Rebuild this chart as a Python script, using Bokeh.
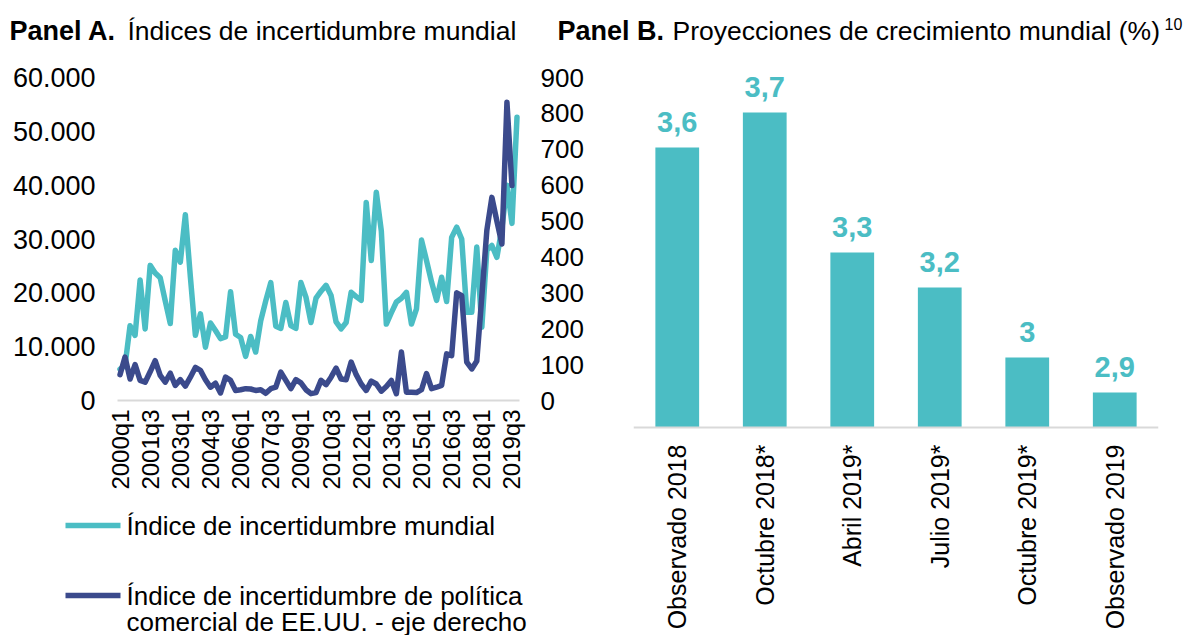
import math
from bokeh.plotting import figure
from bokeh.models import (Range1d, LinearAxis, CategoricalAxis, FixedTicker, Label,
                          BoxAnnotation, FactorRange)
from bokeh.layouts import column, row
from bokeh.embed import file_html
from bokeh.resources import INLINE
from bokeh.core.properties import value

FONT = "Liberation Sans"
CYAN = "#4BBDC4"
NAVY = "#3B4A8C"
GRAY = "#D9D9D9"
TXT = "#000000"

# ---------------- data ----------------
years = list(range(2000, 2020))
quarters = [f"{y}q{q}" for y in years for q in (1, 2, 3, 4)]

# Índice de incertidumbre mundial (left axis)
wui = [5800, 6500, 13900, 12100, 22400, 13300, 25100, 23700, 22800, 18500,
       14300, 27900, 25700, 34500, 23000, 12100, 16100, 9900, 14400, 13000,
       11500, 11800, 20200, 12300, 11700, 8200, 11900, 9000, 14800, 18500,
       21900, 13800, 13400, 18200, 13900, 13400, 21900, 19200, 14500, 19000,
       20300, 21400, 19500, 14600, 13300, 14500, 20100, 19300, 18600, 36800,
       26000, 38700, 31500, 14200, 16300, 18300, 19000, 20100, 14200, 17000,
       29800, 26000, 22000, 18600, 22900, 18400, 30300, 32200, 30000, 16400,
       16400, 28500, 13600, 27900, 28800, 26600, 32000, 40000, 32900, 52600]

# Índice de incertidumbre de política comercial de EE.UU. (right axis)
tpu = [72, 121, 60, 100, 56, 51, 80, 111, 70, 51,
       76, 42, 58, 40, 65, 92, 84, 58, 37, 48,
       21, 65, 56, 28, 30, 33, 32, 28, 30, 20,
       33, 37, 79, 56, 33, 58, 49, 30, 19, 22,
       56, 44, 65, 90, 60, 58, 107, 72, 46, 28,
       54, 46, 26, 39, 56, 19, 135, 23, 23, 22,
       30, 75, 33, 37, 42, 130, 125, 300, 292, 107,
       88, 110, 290, 474, 566, 500, 436, 831, 599]

left_ticks = [0, 10000, 20000, 30000, 40000, 50000, 60000]
left_tick_labels = ["0", "10.000", "20.000", "30.000", "40.000", "50.000", "60.000"]
right_ticks = [0, 100, 200, 300, 400, 500, 600, 700, 800, 900]
x_label_step = 6

bar_cats = ["Observado 2018", "Octubre 2018*", "Abril 2019*", "Julio 2019*",
            "Octubre 2019*", "Observado 2019"]
bar_vals = [3.6, 3.7, 3.3, 3.2, 3.0, 2.9]
bar_labels = [f"{v:g}".replace(".", ",") for v in bar_vals]
bar_axis_min = 2.8
bar_axis_max = 3.8

legend_1 = "Índice de incertidumbre mundial"
legend_2a = "Índice de incertidumbre de política"
legend_2b = "comercial de EE.UU. - eje derecho"

# ---------------- page geometry (pixels) ----------------
PAGE_W, PAGE_H = 1190, 635
TITLE_H = 58
FIG_H = PAGE_H - TITLE_H
A_W = 600
B_W = PAGE_W - A_W
A_L, A_R = 117, 519          # quarter band of panel A
PLOT_TOP, A_ZERO = 77, 400   # y of top tick / zero line in panel A
B_L, B_R, B_BASE = 633, 1158, 427


def add_label(p, x, y, text, size="27px", bold=False, color=TXT,
              baseline="middle", align="left"):
    p.add_layout(Label(x=x, y=y, text=text, text_font=FONT, text_font_size=size,
                       text_font_style="bold" if bold else "normal",
                       text_color=color, text_baseline=baseline, text_align=align))


# ---------------- titles ----------------
pt = figure(width=PAGE_W, height=TITLE_H, x_range=Range1d(0, PAGE_W),
            y_range=Range1d(0, TITLE_H), x_axis_type=None, y_axis_type=None,
            toolbar_location=None, output_backend="svg", min_border=0,
            outline_line_color=None)
pt.grid.visible = False
ty = TITLE_H - 30
add_label(pt, 9, ty, "Panel A.", size="27px", bold=True)
add_label(pt, 127, ty, "Índices de incertidumbre mundial", size="26.5px")
add_label(pt, 557, ty, "Panel B.", size="27px", bold=True)
add_label(pt, 672, ty, "Proyecciones de crecimiento mundial (%)", size="26.5px")
add_label(pt, 1164, TITLE_H - 23, "10", size="16px")

# ---------------- Panel A ----------------
n = len(quarters)
ux = (A_R - A_L) / n                                   # px per quarter
x0 = -0.5 - A_L / ux
x1 = (n - 0.5) + (A_W - A_R) / ux
vy = (A_ZERO - PLOT_TOP) / (left_ticks[-1] - left_ticks[0])
y0 = left_ticks[0] - (PAGE_H - A_ZERO) / vy
y1 = left_ticks[-1] + (PLOT_TOP - TITLE_H) / vy
vr = (A_ZERO - PLOT_TOP) / (right_ticks[-1] - right_ticks[0])
r0 = right_ticks[0] - (PAGE_H - A_ZERO) / vr
r1 = right_ticks[-1] + (PLOT_TOP - TITLE_H) / vr


def ax_x(px):
    return x0 + px / ux


def ax_y(py):
    return y0 + (PAGE_H - py) / vy


xs = list(range(n))
pA = figure(width=A_W, height=FIG_H, x_range=Range1d(x0, x1), y_range=Range1d(y0, y1),
            toolbar_location=None, output_backend="svg", min_border=0,
            outline_line_color=None, x_axis_location=None, y_axis_location=None)
pA.extra_y_ranges = {"right": Range1d(r0, r1)}
pA.grid.visible = False

pA.line(xs, wui, line_color=CYAN, line_width=5.5, line_join="round", line_cap="round")
pA.line(xs[:len(tpu)], tpu, y_range_name="right", line_color=NAVY, line_width=5.5,
        line_join="round", line_cap="round")

ax_l = LinearAxis(fixed_location=-0.5)
ax_r = LinearAxis(y_range_name="right", fixed_location=n - 0.5)
pA.add_layout(ax_l, "left")
pA.add_layout(ax_r, "right")
ax_l.ticker = FixedTicker(ticks=left_ticks)
ax_l.major_label_overrides = {t: s for t, s in zip(left_ticks, left_tick_labels)}
ax_r.ticker = FixedTicker(ticks=right_ticks)
for ax, fs in ((ax_l, "27px"), (ax_r, "26px")):
    ax.axis_line_color = None
    ax.major_tick_line_color = None
    ax.minor_tick_line_color = None
    ax.major_tick_out = 0
    ax.major_tick_in = 0
    ax.major_label_text_font = FONT
    ax.major_label_text_font_size = fs
    ax.major_label_text_color = TXT
ax_l.major_label_standoff = 22
ax_r.major_label_standoff = 21

xa = LinearAxis(fixed_location=0)
pA.add_layout(xa, "below")
tick_idx = list(range(0, n, x_label_step))
xa.ticker = FixedTicker(ticks=tick_idx)
xa.major_label_overrides = {i: quarters[i] for i in tick_idx}
xa.bounds = (-0.5, n - 0.5)
xa.major_label_orientation = math.pi / 2
xa.major_label_text_font = FONT
xa.major_label_text_font_size = "24px"
xa.major_label_text_color = TXT
xa.major_label_standoff = 9
xa.axis_line_color = GRAY
xa.axis_line_width = 2
xa.major_tick_line_color = None
xa.minor_tick_line_color = None
xa.major_tick_out = 0
xa.major_tick_in = 0

# legend (built from page geometry)
for (py, col) in ((525, CYAN), (595, NAVY)):
    pA.add_layout(BoxAnnotation(left=ax_x(65), right=ax_x(120),
                                top=ax_y(py - 2.7), bottom=ax_y(py + 2.7),
                                fill_color=col, fill_alpha=1, line_color=None))
add_label(pA, ax_x(126), ax_y(525), legend_1, size="26px")
add_label(pA, ax_x(126), ax_y(595), legend_2a, size="26px")
add_label(pA, ax_x(126), ax_y(621), legend_2b, size="26px")

# ---------------- Panel B ----------------
wy = (B_BASE - PLOT_TOP) / (bar_axis_max - bar_axis_min)
b0 = bar_axis_min - (PAGE_H - B_BASE) / wy
b1 = bar_axis_max + (PLOT_TOP - TITLE_H) / wy
pB = figure(width=B_W, height=FIG_H, x_range=FactorRange(*bar_cats),
            y_range=Range1d(b0, b1), toolbar_location=None, output_backend="svg",
            min_border_left=B_L - A_W, min_border_right=PAGE_W - B_R,
            min_border_top=0, min_border_bottom=0,
            outline_line_color=None, x_axis_location=None, y_axis_location=None)
pB.grid.visible = False
pB.vbar(x=bar_cats, top=bar_vals, bottom=bar_axis_min, width=0.5,
        fill_color=CYAN, line_color=None)
pB.text(x=bar_cats, y=bar_vals, text=bar_labels, text_font=value(FONT),
        text_font_size="29px", text_font_style="bold", text_color=CYAN,
        text_align="center", text_baseline="middle", y_offset=-26)
xb = CategoricalAxis(fixed_location=bar_axis_min)
pB.add_layout(xb, "below")
xb.major_label_orientation = math.pi / 2
xb.major_label_text_font = FONT
xb.major_label_text_font_size = "25px"
xb.major_label_text_color = TXT
xb.major_label_standoff = 17
xb.axis_line_color = GRAY
xb.axis_line_width = 2
xb.major_tick_line_color = None
xb.minor_tick_line_color = None
xb.major_tick_out = 0
xb.major_tick_in = 0

layout = column(pt, row(pA, pB))
open("out.html", "w").write(file_html(layout, INLINE))
